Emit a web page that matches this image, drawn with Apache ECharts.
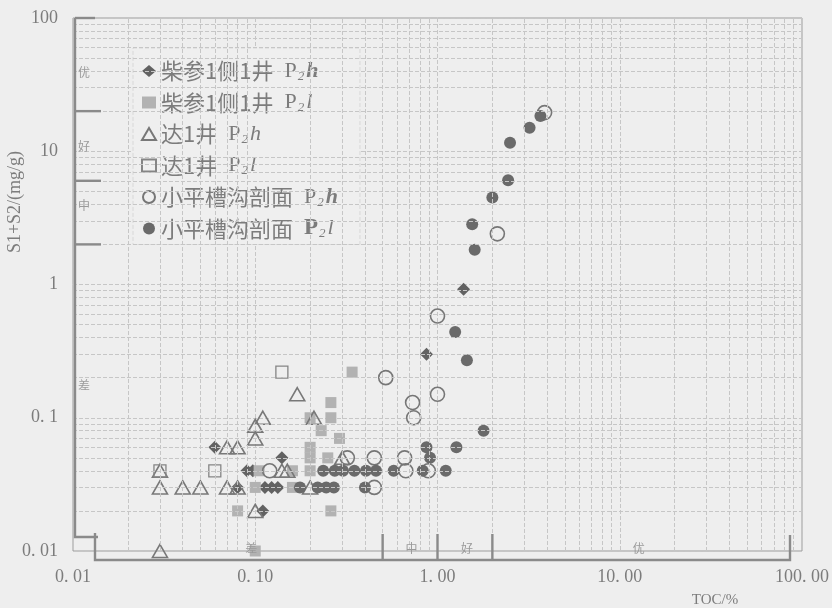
<!DOCTYPE html>
<html>
<head>
<meta charset="utf-8">
<script src="https://cdn.jsdelivr.net/npm/echarts@6/dist/echarts.min.js"></script>
<style>
  html, body { margin: 0; padding: 0; background: #eeeeee; }
  #chart { width: 832px; height: 608px; }
</style>
</head>
<body>
<div id="chart"></div>
<script>
// Series names (legend order)
const seriesNames = ['柴参1侧1井 P2h', '柴参1侧1井 P2l', '达1井 P2h', '达1井 P2l', '小平槽沟剖面 P2h', '小平槽沟剖面 P2l'];

// [TOC %, S1+S2 mg/g]
const chaiP2h = [[0.06,0.06],[0.08,0.03],[0.09,0.04],[0.097,0.04],[0.11,0.02],[0.113,0.03],[0.123,0.03],[0.133,0.03],[0.14,0.05],[0.87,0.30],[1.39,0.92]];
const chaiP2l = [[0.08,0.02],[0.1,0.03],[0.105,0.04],[0.16,0.04],[0.16,0.03],[0.2,0.1],[0.26,0.13],[0.26,0.1],[0.23,0.08],[0.29,0.07],[0.2,0.06],[0.2,0.05],[0.2,0.04],[0.25,0.05],[0.26,0.02],[0.34,0.22],[0.1,0.01]];
const da1P2h = [[0.03,0.04],[0.03,0.03],[0.04,0.03],[0.05,0.03],[0.07,0.03],[0.08,0.03],[0.07,0.06],[0.08,0.06],[0.1,0.07],[0.1,0.087],[0.11,0.1],[0.17,0.15],[0.21,0.1],[0.14,0.04],[0.15,0.04],[0.3,0.05],[0.2,0.03],[0.1,0.02],[0.03,0.01]];
const da1P2l = [[0.03,0.04],[0.06,0.04],[0.14,0.22]];
const xpP2h = [[0.12,0.04],[0.32,0.05],[0.45,0.05],[0.45,0.03],[0.52,0.2],[0.66,0.05],[0.67,0.04],[0.73,0.13],[0.74,0.1],[0.89,0.04],[1.0,0.15],[1.0,0.58],[2.13,2.4],[3.87,19.5]];
const xpP2l = [[0.176,0.03],[0.22,0.03],[0.245,0.03],[0.27,0.03],[0.4,0.03],[0.236,0.04],[0.273,0.04],[0.303,0.04],[0.35,0.04],[0.405,0.04],[0.46,0.04],[0.575,0.04],[0.83,0.04],[1.11,0.04],[0.87,0.06],[0.91,0.05],[1.27,0.06],[1.79,0.08],[1.45,0.27],[1.25,0.44],[1.6,1.82],[1.55,2.83],[2.0,4.49],[2.44,6.05],[2.5,11.6],[3.2,15.0],[3.67,18.4]];

// Axis tick labels (one per decade)
const xTickLabels = ['0. 01', '0. 10', '1. 00', '10. 00', '100. 00'];
const yTickLabels = ['0. 01', '0. 1', '1', '10', '100'];
const decades = [0.01, 0.1, 1, 10];

// Grade boundaries and grade label anchors
const tocBounds = [0.5, 1, 2];
const hcBounds = [2, 6, 20];
const tocGrades = [['差', 0.095], ['中', 0.72], ['好', 1.45], ['优', 12.7]];
const hcGrades = [['优', 39], ['好', 10.9], ['中', 3.9], ['差', 0.174]];

const SERIF = '"Liberation Serif", "DejaVu Serif", serif';
const CJK = '"Noto Sans CJK SC", sans-serif';
const TEXT = '#7c7c7c';
const GRID = '#c6c6c6';
const BAR = '#8a8a8a';

// minor log gridlines: 2..9 within each decade
const minor = [];
decades.forEach(d => { for (let m = 2; m <= 9; m++) minor.push(+(m * d).toPrecision(3)); });

const legendText = {
  '柴参1侧1井 P2h': '{cn|柴参1侧1井}{lat|  P}{sub|2}{bit|h}',
  '柴参1侧1井 P2l': '{cn|柴参1侧1井}{lat|  P}{sub|2}{it|l}',
  '达1井 P2h': '{cn|达1井}{lat|  P}{sub|2}{it|h}',
  '达1井 P2l': '{cn|达1井}{lat|  P}{sub|2}{it|l}',
  '小平槽沟剖面 P2h': '{cn|小平槽沟剖面}{lat|  P}{sub|2}{bit|h}',
  '小平槽沟剖面 P2l': '{cn|小平槽沟剖面}{lat|  }{blat|P}{sub|2}{it|l}'
};

const chart = echarts.init(document.getElementById('chart'));

const decadeLabel = (labels) => (v) => labels[Math.round(Math.log10(v)) + 2];

const base = { type: 'scatter', z: 3 };

chart.setOption({
  animation: false,
  backgroundColor: '#eeeeee',
  grid: { left: 73, right: 28, top: 18, bottom: 57, show: true, borderColor: '#9c9c9c', borderWidth: 1, backgroundColor: 'transparent' },
  xAxis: {
    type: 'log', logBase: 10, min: 0.01, max: 100,
    axisLine: { show: false }, axisTick: { show: false },
    axisLabel: { formatter: decadeLabel(xTickLabels), fontFamily: SERIF, fontSize: 18, color: TEXT, margin: 17, showMinLabel: true, showMaxLabel: true },
    splitLine: { show: true, lineStyle: { color: GRID, type: [4, 2], width: 1 } }
  },
  yAxis: {
    type: 'log', logBase: 10, min: 0.01, max: 100,
    axisLine: { show: false }, axisTick: { show: false },
    axisLabel: { formatter: decadeLabel(yTickLabels), fontFamily: SERIF, fontSize: 18, color: TEXT, margin: 15, showMinLabel: true, showMaxLabel: true },
    splitLine: { show: true, lineStyle: { color: GRID, type: [4, 2], width: 1 } }
  },
  legend: {
    data: seriesNames,
    orient: 'vertical', left: 133, top: 48,
    padding: [11, 22, 4, 8],
    itemGap: 7.5, itemWidth: 14, itemHeight: 12,
    backgroundColor: '#efefef', borderColor: '#d8d8d8', borderWidth: 1, borderType: 'dashed',
    formatter: name => legendText[name],
    textStyle: {
      color: TEXT, fontSize: 22, lineHeight: 24,
      rich: {
        cn: { fontFamily: CJK, fontSize: 22, color: TEXT, lineHeight: 24 },
        lat: { fontFamily: SERIF, fontSize: 22, color: TEXT, lineHeight: 24 },
        blat: { fontFamily: SERIF, fontSize: 23, fontWeight: 'bold', color: TEXT, lineHeight: 24 },
        sub: { fontFamily: SERIF, fontSize: 13, fontStyle: 'italic', color: TEXT, lineHeight: 24, verticalAlign: 'bottom', padding: [8, 2, 0, 1] },
        it: { fontFamily: SERIF, fontSize: 22, fontStyle: 'italic', color: TEXT, lineHeight: 24 },
        bit: { fontFamily: SERIF, fontSize: 22, fontStyle: 'italic', fontWeight: 'bold', color: TEXT, lineHeight: 24 }
      }
    }
  },
  series: [
    {
      type: 'scatter', name: 'gridlines', data: [], silent: true, z: 1,
      markLine: {
        silent: true, symbol: ['none', 'none'], label: { show: false },
        lineStyle: { color: GRID, type: [4, 2], width: 1 },
        emphasis: { disabled: true },
        data: minor.map(v => ({ xAxis: v })).concat(minor.map(v => ({ yAxis: v })))
      }
    },
    Object.assign({}, base, { name: seriesNames[0], data: chaiP2h, symbol: 'diamond', symbolSize: 13, itemStyle: { color: '#626262', opacity: 1 } }),
    Object.assign({}, base, { name: seriesNames[1], data: chaiP2l, symbol: 'rect', symbolSize: 11, itemStyle: { color: '#b2b2b2', opacity: 1 } }),
    Object.assign({}, base, { name: seriesNames[2], data: da1P2h, symbol: 'triangle', symbolSize: [15, 13], itemStyle: { color: 'rgba(0,0,0,0)', borderColor: '#787878', borderWidth: 1.6, opacity: 1 } }),
    Object.assign({}, base, { name: seriesNames[3], data: da1P2l, symbol: 'rect', symbolSize: 12, itemStyle: { color: 'rgba(0,0,0,0)', borderColor: '#858585', borderWidth: 1.3, opacity: 1 } }),
    Object.assign({}, base, { name: seriesNames[4], data: xpP2h, symbol: 'circle', symbolSize: 14, itemStyle: { color: 'rgba(0,0,0,0)', borderColor: '#767676', borderWidth: 1.6, opacity: 1 } }),
    Object.assign({}, base, { name: seriesNames[5], data: xpP2l, symbol: 'circle', symbolSize: 12, itemStyle: { color: '#6a6a6a', opacity: 1 } })
  ]
});

// Grade brackets along the left and bottom edges, positioned through the axes
const toPx = (x, y) => chart.convertToPixel({ gridIndex: 0 }, [x, y]);
const [xL, yT] = toPx(0.01, 100);
const [xR, yB] = toPx(100, 0.01);
const barX = xL + 2;
const barEndY = yB - 14;
const bottomY = yB + 9;
const bottomStartX = xL + 22;
const bottomEndX = xR - 12;

const lineStyle = { stroke: BAR, lineWidth: 2.4, fill: null };
const seg = (pts) => ({ type: 'polyline', silent: true, z: 10, shape: { points: pts }, style: lineStyle });
const gradeText = (txt, x, y) => ({
  type: 'text', silent: true, z: 10, x: x, y: y,
  style: { text: txt, fill: '#9a9a9a', font: '12px ' + CJK, align: 'center', verticalAlign: 'middle', textAlign: 'center', textVerticalAlign: 'middle' }
});

const graphics = [];
graphics.push(seg([[barX, yT], [barX, barEndY], [xL + 25, barEndY]]));
graphics.push(seg([[barX, yT], [xL + 22, yT]]));
hcBounds.forEach(b => { const y = toPx(1, b)[1]; graphics.push(seg([[barX, y], [xL + 28, y]])); });
graphics.push(seg([[bottomStartX, barEndY - 4], [bottomStartX, bottomY], [bottomEndX, bottomY], [bottomEndX, barEndY - 2]]));
tocBounds.forEach(b => { const x = toPx(b, 1)[0]; graphics.push(seg([[x, bottomY], [x, barEndY - 3]])); });
hcGrades.forEach(([t, v]) => graphics.push(gradeText(t, xL + 11, toPx(1, v)[1])));
tocGrades.forEach(([t, v]) => graphics.push(gradeText(t, toPx(v, 1)[0], yB - 3)));

// Axis titles
graphics.push({
  type: 'text', silent: true, x: 715, y: 600,
  style: { text: 'TOC/%', fill: TEXT, font: '15px ' + SERIF, align: 'center', verticalAlign: 'middle', textAlign: 'center', textVerticalAlign: 'middle' }
});
graphics.push({
  type: 'text', silent: true, x: 15, y: 202, rotation: Math.PI / 2,
  style: { text: 'S1+S2/(mg/g)', fill: TEXT, font: '18px ' + SERIF, align: 'center', verticalAlign: 'middle', textAlign: 'center', textVerticalAlign: 'middle' }
});

chart.setOption({ graphic: { elements: graphics } });
</script>
</body>
</html>
